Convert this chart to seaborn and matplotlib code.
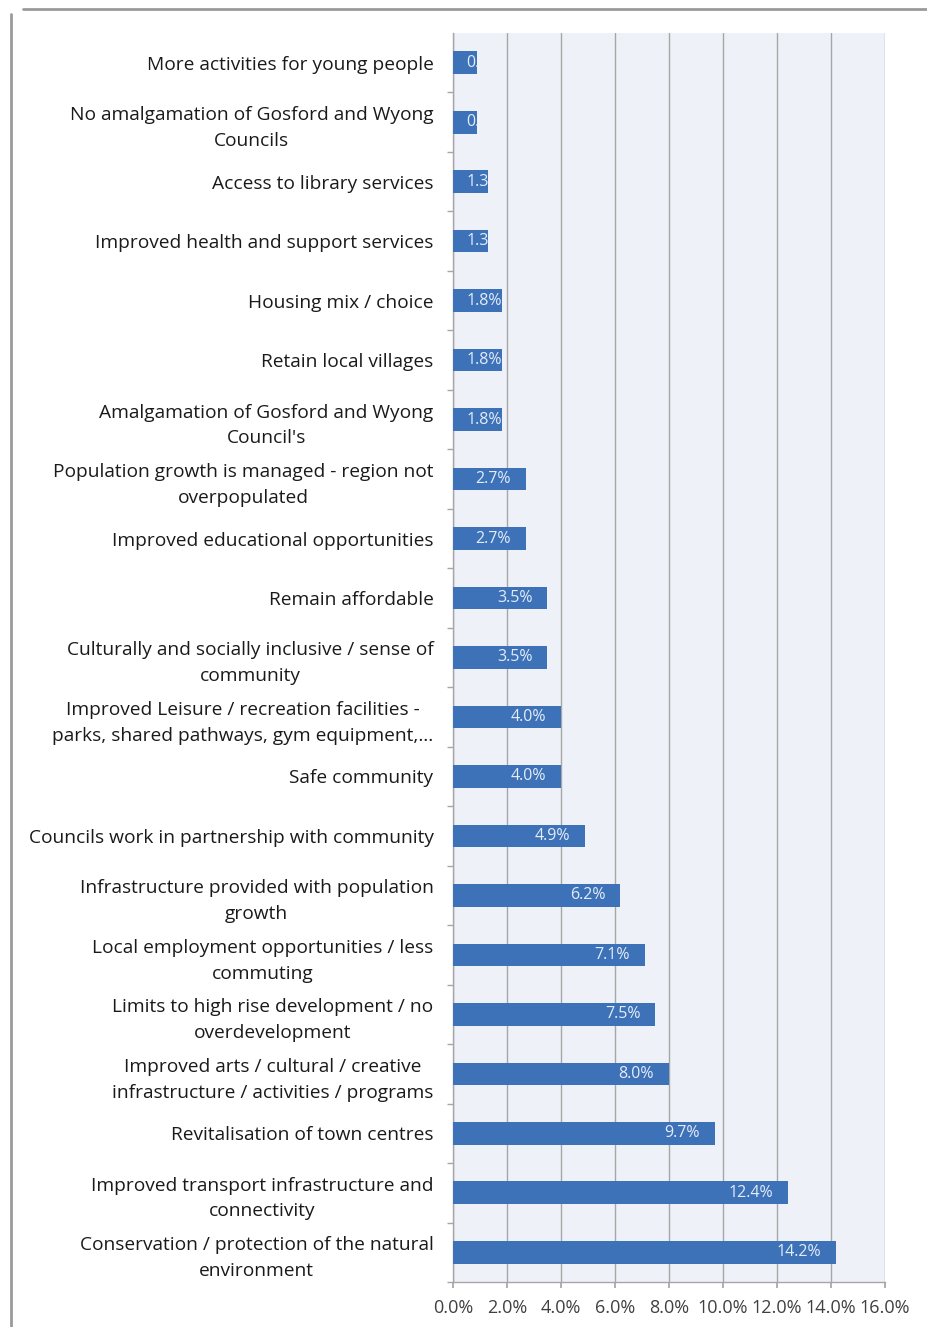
import matplotlib
matplotlib.use("Agg")
import matplotlib.pyplot as plt
import seaborn as sns
import pandas as pd
import numpy as np
from matplotlib.lines import Line2D
from matplotlib.ticker import FixedLocator, PercentFormatter

categories = [
    "More activities for young people",
    "No amalgamation of Gosford and Wyong\nCouncils",
    "Access to library services",
    "Improved health and support services",
    "Housing mix / choice",
    "Retain local villages",
    "Amalgamation of Gosford and Wyong\nCouncil's",
    "Population growth is managed - region not\noverpopulated",
    "Improved educational opportunities",
    "Remain affordable",
    "Culturally and socially inclusive / sense of\ncommunity",
    "Improved Leisure / recreation facilities -\nparks, shared pathways, gym equipment,\u2026",
    "Safe community",
    "Councils work in partnership with community",
    "Infrastructure provided with population\ngrowth",
    "Local employment opportunities / less\ncommuting",
    "Limits to high rise development / no\noverdevelopment",
    "Improved arts / cultural / creative\ninfrastructure / activities / programs",
    "Revitalisation of town centres",
    "Improved transport infrastructure and\nconnectivity",
    "Conservation / protection of the natural\nenvironment",
]
percentages = [0.9, 0.9, 1.3, 1.3, 1.8, 1.8, 1.8, 2.7, 2.7, 3.5, 3.5,
               4.0, 4.0, 4.9, 6.2, 7.1, 7.5, 8.0, 9.7, 12.4, 14.2]
x_ticks = [0, 2, 4, 6, 8, 10, 12, 14, 16]

df = pd.DataFrame({"category": categories, "pct": percentages})

sns.set_theme(style="white")
plt.rcParams["font.family"] = ["Open Sans", "DejaVu Sans"]

fig = plt.figure(figsize=(9.28, 13.27), dpi=100)
ax = fig.add_axes([453 / 928, 1 - 1282 / 1327, 432 / 928, (1282 - 33) / 1327])
ax.set_facecolor("#eef1f7")

sns.barplot(data=df, x="pct", y="category", orient="h", color="#3d72b8",
            saturation=1, width=0.38, linewidth=0, ax=ax, zorder=3)

ax.set_xlim(0, 16)
ax.set_ylim(len(categories) - 0.5, -0.5)
ax.xaxis.set_major_locator(FixedLocator(x_ticks))
ax.xaxis.set_major_formatter(PercentFormatter(decimals=1))
ax.grid(axis="x", color="#a6a6a6", linewidth=1.0, zorder=0)
ax.set_axisbelow(True)
ax.set_xlabel("")
ax.set_ylabel("")

ax.tick_params(axis="x", which="major", length=4, color="#a6a6a6",
               labelsize=13, labelcolor="#404040", pad=8, direction="out", bottom=True)
ax.tick_params(axis="y", which="major", length=0, labelsize=13.8,
               labelcolor="#1a1a1a", pad=14)
ax.set_yticks(np.arange(len(categories)) + 0.5, minor=True)
ax.tick_params(axis="y", which="minor", length=4, color="#a6a6a6", left=True)
for lbl in ax.get_yticklabels():
    lbl.set_multialignment("center")
    lbl.set_linespacing(1.55)

for side in ["top", "right"]:
    ax.spines[side].set_visible(False)
for side in ["left", "bottom"]:
    ax.spines[side].set_color("#a6a6a6")
    ax.spines[side].set_linewidth(1.0)

# value labels, clipped to their bar when the bar is too short
for bar, val in zip(ax.patches, percentages):
    y = bar.get_y() + bar.get_height() / 2
    txt = f"{val:.1f}%"
    if val >= 2.5:
        t = ax.text(val - 0.55, y, txt, ha="right", va="center",
                    color="#e4ecf7", fontsize=11.5, zorder=4, clip_on=True)
    else:
        t = ax.text(0.5, y, txt, ha="left", va="center",
                    color="#e4ecf7", fontsize=11.5, zorder=4, clip_on=True)
    t.set_clip_path(bar)

# chart frame
fig.add_artist(Line2D([23 / 928, 1.0], [1 - 9 / 1327, 1 - 9 / 1327],
                      transform=fig.transFigure, color="#9a9a9a", linewidth=2))
fig.add_artist(Line2D([11 / 928, 11 / 928], [0.0, 1 - 14 / 1327],
                      transform=fig.transFigure, color="#9a9a9a", linewidth=2))

fig.savefig("out.png", dpi=100)
